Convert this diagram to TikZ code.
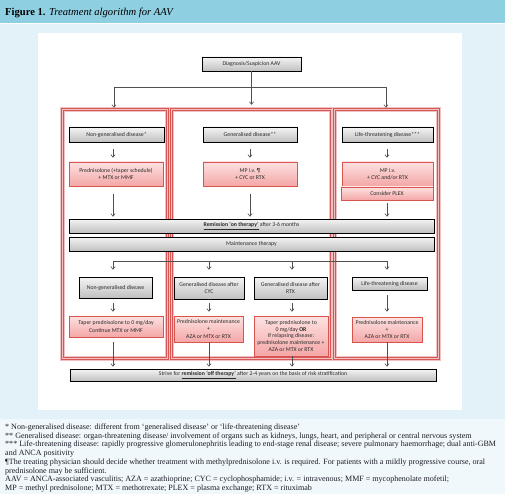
\documentclass[tikz,border=0pt]{standalone}
\usepackage{fontspec}
\setmainfont{Liberation Serif}
\newfontfamily\diafont{Carlito}
\usetikzlibrary{shadows,arrows.meta}
\definecolor{banner}{HTML}{8ECFE2}
\definecolor{bgblue}{HTML}{E3F1F8}
\definecolor{footbg}{HTML}{F1F8FB}
\definecolor{gtop}{HTML}{F4F4F4}
\definecolor{gbot}{HTML}{C0C0C0}
\definecolor{ptop}{HTML}{FDE2E2}
\definecolor{pbot}{HTML}{F4A6A6}
\definecolor{pborder}{HTML}{D9534F}
\definecolor{fred}{HTML}{D65656}
\definecolor{fpale}{HTML}{F2C2C2}
\definecolor{agray}{HTML}{505050}
\definecolor{txt}{HTML}{2A2A2A}
\definecolor{foottxt}{HTML}{1C1C28}
\tikzset{
  dfont/.style={font=\diafont\fontsize{5.8}{7.4}\selectfont},
  gbox/.style={draw=black, line width=0.7pt, top color=gtop, bottom color=gbot,
    drop shadow={shadow xshift=0.7pt, shadow yshift=-0.7pt, opacity=0.35},
    inner sep=0pt, align=center, text=txt, dfont},
  pbox/.style={draw=pborder, line width=0.6pt, top color=ptop, bottom color=pbot,
    drop shadow={shadow xshift=0.6pt, shadow yshift=-0.6pt, opacity=0.25},
    inner sep=0pt, align=center, text=txt, dfont},
  framebox/.style={inner sep=0pt, draw=none},
  arr/.style={draw=agray, line width=0.6pt, -{Straight Barb[length=2.6pt,width=4.2pt]}},
  conn/.style={draw=agray, line width=0.6pt},
  foot/.style={anchor=base west, inner sep=0pt, text=foottxt, font=\fontsize{8.05}{8.7}\selectfont},
}
\begin{document}
\begin{tikzpicture}[x=1pt,y=-1pt]
\useasboundingbox (0,0) rectangle (505,494);
% backgrounds
\fill[bgblue] (0,0) rectangle (505,494);
\fill[banner] (0,0) rectangle (505,23.5);
\fill[white] (0,23.5) rectangle (505,24.5);
\fill[white] (38,33) rectangle (462,410);
\fill[footbg] (0,419) rectangle (505,494);
% title
\node[anchor=base west, inner sep=0pt, font=\fontsize{10.6}{12}\selectfont, text=black] (title) at (5,15.8)
  {\textbf{Figure 1.} \textit{Treatment algorithm for AAV}};
% column frames
\node[framebox, minimum width=104pt, minimum height=248pt] (fL) at (115,234) {};
\node[framebox, minimum width=159pt, minimum height=248pt] (fM) at (251.5,234) {};
\node[framebox, minimum width=103pt, minimum height=248pt] (fR) at (386.5,234) {};
\foreach \n in {fL,fM,fR}{
  \draw[fpale, line width=4.8pt] (\n.north west) rectangle (\n.south east);
  \draw[fred, line width=1pt, double=fpale, double distance=1.3pt] (\n.north west) rectangle (\n.south east);
}
% top
\node[gbox, minimum width=99pt, minimum height=14pt] (diag) at (251.5,64) {Diagnosis/Suspicion AAV};
% row 1
\node[gbox, minimum width=95pt, minimum height=15pt] (ng1) at (116.5,134.5) {Non-generalised disease*};
\node[gbox, minimum width=94pt, minimum height=15pt] (g1) at (250,134.5) {Generalised disease**};
\node[gbox, minimum width=91pt, minimum height=15pt] (lt1) at (387.5,134.5) {Life-threatening disease***};
\node[pbox, minimum width=94pt, minimum height=24pt] (p1) at (116,174) {Prednisolone (+taper schedule)\\+ MTX or MMF};
\node[pbox, minimum width=94pt, minimum height=24pt] (p2) at (250,174) {MP i.v. ¶\\+ CYC or RTX};
\node[pbox, minimum width=91pt, minimum height=24pt] (p3) at (387.5,174) {MP i.v.\\+ CYC and/or RTX};
\node[pbox, minimum width=92pt, minimum height=13pt] (plex) at (387,193.5) {Consider PLEX};
% bars
\node[gbox, minimum width=365pt, minimum height=14pt] (rem) at (251.5,226)
  {\underline{\textbf{Remission ‘on therapy’}} after 3-6 months};
\node[gbox, minimum width=365pt, minimum height=14pt] (maint) at (251.5,244) {Maintenance therapy};
% row 2
\node[gbox, minimum width=73pt, minimum height=21pt] (ng2) at (115.5,287.5) {Non-generalised disease};
\node[gbox, minimum width=70pt, minimum height=22pt] (cyc) at (209,288) {Generalised disease after\\CYC};
\node[gbox, minimum width=73pt, minimum height=22pt] (rtx) at (290.5,288) {Generalised disease after\\RTX};
\node[gbox, minimum width=75pt, minimum height=13pt] (lt2) at (389.5,283.5) {Life-threatening disease};
\node[pbox, minimum width=94pt, minimum height=21pt] (q1) at (116,326.5) {Taper prednisolone to 0 mg/day\\Continue MTX or MMF};
\node[pbox, minimum width=69pt, minimum height=26pt] (q2) at (208.5,329) {Prednisolone maintenance\\+\\AZA or MTX or RTX};
\node[pbox, minimum width=74pt, minimum height=40pt, font=\diafont\fontsize{5.8}{6.8}\selectfont] (q3) at (291,336)
  {Taper prednisolone to\\0 mg/day \textbf{OR}\\If relapsing disease:\\prednisolone maintenance +\\AZA or MTX or RTX};
\node[pbox, minimum width=70pt, minimum height=25pt] (q4) at (387,329.5) {Prednisolone maintenance\\+\\AZA or MTX or RTX};
\node[gbox, minimum width=366pt, minimum height=12pt] (final) at (253,375)
  {Strive for \underline{\textbf{remission ‘off therapy’}} after 2-4 years on the basis of risk stratification};
% column coordinates
\coordinate (cL) at (113,0);
\coordinate (cR) at (387,0);
\coordinate (c2) at (209,0);
\coordinate (c3) at (292,0);
% top connectors
\coordinate (tL) at (114,87);
\coordinate (tR) at (386,87);
\draw[conn] (tL) -- (tR);
\draw[arr, shorten >=5pt] (diag.south) -- (diag.south |- fM.north);
\draw[arr, shorten >=2pt] (tL) -- (tL |- fL.north);
\draw[arr, shorten >=2pt] (tR) -- (tR |- fR.north);
% row 1 arrows
\draw[arr, shorten <=7pt, shorten >=4pt] (ng1.south -| cL) -- (p1.north -| cL);
\draw[arr, shorten <=7pt, shorten >=4pt] (g1.south) -- (p2.north);
\draw[arr, shorten <=7pt, shorten >=4pt] (lt1.south -| cR) -- (p3.north -| cR);
\draw[arr, shorten <=8pt, shorten >=2pt] (p1.south -| cL) -- (rem.north -| cL);
\draw[arr, shorten <=8pt, shorten >=2pt] (p2.south) -- (rem.north -| p2.south);
\draw[arr, shorten <=3pt, shorten >=2pt] (plex.south -| cR) -- (rem.north -| cR);
% branching after maintenance
\coordinate (bL) at (113,261);
\coordinate (bR) at (387,261);
\draw[conn] (bL) -- (bR);
\draw[arr, shorten >=7pt] (bL) -- (bL |- ng2.north);
\draw[arr, shorten >=7pt] (bL -| c2) -- (c2 |- cyc.north);
\draw[arr, shorten >=7pt] (bL -| c3) -- (c3 |- rtx.north);
\draw[arr, shorten >=7pt] (bR) -- (bR |- lt2.north);
% row 2 arrows
\draw[arr, shorten <=5pt, shorten >=4pt] (ng2.south -| cL) -- (q1.north -| cL);
\draw[arr, shorten <=4pt, shorten >=4pt] (cyc.south -| c2) -- (q2.north -| c2);
\draw[arr, shorten <=4pt, shorten >=4pt] (rtx.south -| c3) -- (q3.north -| c3);
\draw[arr, shorten <=5pt, shorten >=5pt] (lt2.south -| cR) -- (q4.north -| cR);
\draw[arr, shorten <=5pt, shorten >=2pt] (q1.south -| cL) -- (final.north -| cL);
\draw[arr, shorten >=2pt] (q2.south -| c2) -- (final.north -| c2);
\draw[arr, shorten >=2pt] (q3.south -| c3) -- (final.north -| c3);
\draw[arr, shorten >=2pt] (q4.south -| cR) -- (final.north -| cR);
% footnotes
\node[foot] (f1) at (5,429.5) {* Non-generalised disease: different from ‘generalised disease’ or ‘life-threatening disease’};
\node[foot] (f2) at (5,438.2) {** Generalised disease: organ-threatening disease/ involvement of organs such as kidneys, lungs, heart, and peripheral or central nervous system};
\node[foot] (f3) at (5,446.9) {*** Life-threatening disease: rapidly progressive glomerulonephritis leading to end-stage renal disease; severe pulmonary haemorrhage; dual anti-GBM};
\node[foot] (f4) at (5,455.6) {and ANCA positivity};
\node[foot] (f5) at (5,464.3) {¶The treating physician should decide whether treatment with methylprednisolone i.v. is required. For patients with a mildly progressive course, oral};
\node[foot] (f6) at (5,473.0) {prednisolone may be sufficient.};
\node[foot] (f7) at (5,481.7) {AAV = ANCA-associated vasculitis; AZA = azathioprine; CYC = cyclophosphamide; i.v. = intravenous; MMF = mycophenolate mofetil;};
\node[foot] (f8) at (5,490.4) {MP = methyl prednisolone; MTX = methotrexate; PLEX = plasma exchange; RTX = rituximab};
\end{tikzpicture}
\end{document}
